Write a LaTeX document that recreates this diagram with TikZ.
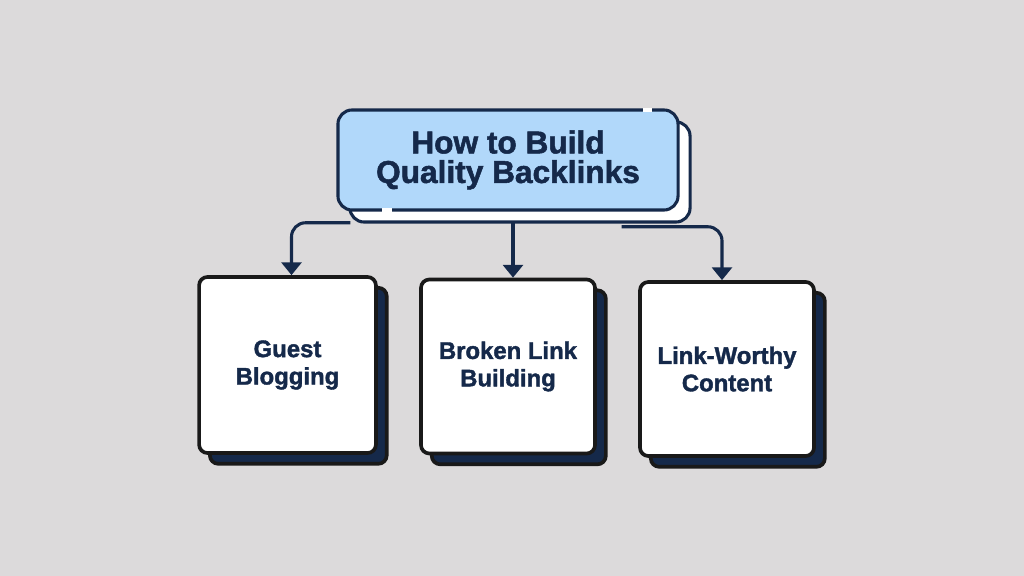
\documentclass[tikz,border=0pt]{standalone}
\usepackage{fontspec}
\setmainfont{Liberation Sans}[BoldFeatures={FakeBold=1.6}]
\usetikzlibrary{arrows.meta,positioning,shadows}
\definecolor{bgc}{HTML}{DCDADB}
\definecolor{navy}{HTML}{15294A}
\definecolor{skyb}{HTML}{B1D8FA}
\pgfdeclarelayer{bg}
\pgfdeclarelayer{links}
\pgfsetlayers{bg,links,main}

\begin{document}
\begin{tikzpicture}[
  x=0.025cm, y=-0.025cm,
  title/.style={draw=navy, line width=2.2pt, rounded corners=10pt, fill=skyb, text=navy,
    minimum width=8.5cm, minimum height=2.5cm, align=center,
    font=\fontsize{22.5}{21}\selectfont\bfseries,
    drop shadow={shadow xshift=0.3cm, shadow yshift=-0.3cm, fill=white, draw=navy, line width=2.2pt, opacity=1}},
  card/.style={draw=black!90, line width=2.6pt, rounded corners=6pt, fill=white, text=navy,
    minimum width=4.35cm, minimum height=4.35cm, align=center,
    font=\fontsize{17}{19.5}\selectfont\bfseries,
    drop shadow={shadow xshift=0.27cm, shadow yshift=-0.27cm, fill=navy, draw=black!90, line width=2.6pt, opacity=1}},
  link/.style={navy, line width=2.2pt, rounded corners=10pt, -{Triangle[width=14pt,length=9pt]}}
]
  \useasboundingbox (0,0) rectangle (1024,576);
  \begin{pgfonlayer}{bg}
    \fill[bgc] (0,0) rectangle (1024,576);
  \end{pgfonlayer}

  \node[title] (title) at (508,160) {How to Build\\Quality Backlinks};

  \node[card, minimum width=4.42cm, minimum height=4.4cm] (guest) at (287.5,365) {Guest\\Blogging};
  \node[card] (broken) at (508,366.5) {Broken Link\\Building};
  \node[card] (worthy) at (727,369) {Link-Worthy\\Content};

  % gaps in the title outline
  \draw[white, line width=2.6pt] (643,110) -- (652,110);
  \draw[white, line width=2.6pt] (382,210) -- (392,210);

  \begin{pgfonlayer}{links}
    \draw[link] ([xshift=0.35cm,yshift=-0.28cm]title.south west) -| ([xshift=0.1cm]guest.north);
    \draw[link] ([xshift=0.125cm,yshift=-0.28cm]title.south) -- ([xshift=0.125cm]broken.north);
    \draw[link] ([xshift=-1.45cm,yshift=-0.38cm]title.south east) -| ([xshift=-0.125cm]worthy.north);
  \end{pgfonlayer}
\end{tikzpicture}
\end{document}
